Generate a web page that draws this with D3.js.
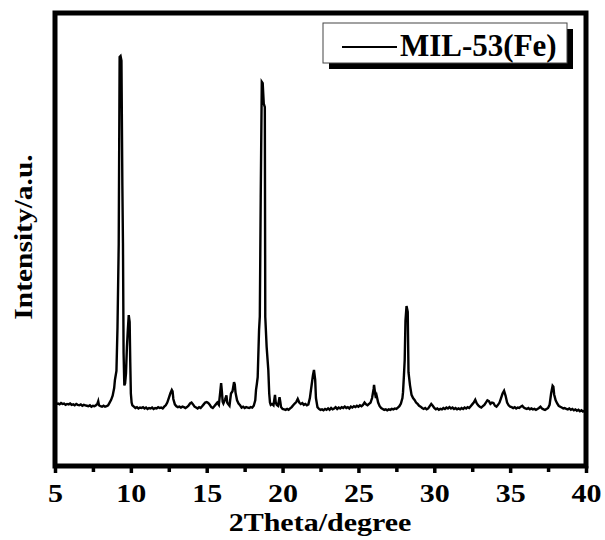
<!DOCTYPE html>
<html>
<head>
<meta charset="utf-8">
<script src="https://cdn.jsdelivr.net/npm/d3@7"></script>
<style>
  body { margin: 0; background: #fff; }
  svg text { font-family: "Liberation Serif", "Times New Roman", serif; font-weight: bold; fill: #000; }
</style>
</head>
<body>
<svg id="chart" width="605" height="540"></svg>
<script>
// XRD pattern of MIL-53(Fe): [2theta, intensity (a.u.)]
var xrd = [
  [5.0, 139], [5.1, 137], [5.2, 138], [5.3, 136], [5.4, 139], [5.5, 137], [5.6, 138], [5.7, 135],
  [5.8, 137], [5.9, 136], [6.0, 138], [6.1, 135], [6.2, 136], [6.3, 134], [6.4, 137], [6.5, 135],
  [6.6, 134], [6.7, 136], [6.8, 133], [6.9, 135], [7.0, 134], [7.1, 133], [7.2, 132], [7.3, 134],
  [7.4, 131], [7.5, 133], [7.6, 132], [7.7, 134], [7.8, 138], [7.85, 143], [7.9, 134], [8.0, 132],
  [8.1, 131], [8.2, 133], [8.3, 131], [8.4, 132], [8.5, 134], [8.6, 140], [8.7, 146], [8.8, 155],
  [8.9, 172], [8.95, 190], [9.05, 210], [9.12, 307], [9.2, 490], [9.26, 903], [9.32, 905], [9.38, 895],
  [9.44, 620], [9.48, 492], [9.52, 250], [9.57, 178], [9.62, 182], [9.68, 205], [9.74, 262], [9.8, 300],
  [9.86, 333], [9.92, 318], [9.96, 230], [10.0, 160], [10.05, 140], [10.1, 134], [10.2, 131], [10.3, 128],
  [10.4, 130], [10.5, 127], [10.6, 129], [10.7, 128], [10.8, 130], [10.9, 127], [11.0, 129], [11.1, 126],
  [11.2, 128], [11.3, 127], [11.4, 129], [11.5, 126], [11.6, 128], [11.7, 127], [11.8, 130], [11.9, 128],
  [12.0, 129], [12.1, 127], [12.2, 131], [12.3, 134], [12.4, 140], [12.5, 150], [12.6, 160], [12.7, 168],
  [12.75, 165], [12.8, 148], [12.9, 136], [13.0, 132], [13.1, 130], [13.2, 131], [13.3, 129], [13.4, 131],
  [13.5, 130], [13.6, 128], [13.7, 130], [13.8, 133], [13.9, 138], [14.0, 140], [14.1, 136], [14.2, 131],
  [14.3, 129], [14.4, 127], [14.5, 130], [14.6, 128], [14.7, 132], [14.8, 136], [14.9, 140], [15.0, 141],
  [15.1, 139], [15.2, 135], [15.3, 130], [15.4, 128], [15.5, 132], [15.6, 136], [15.7, 140], [15.8, 135],
  [15.88, 160], [15.95, 183], [16.0, 165], [16.05, 142], [16.1, 138], [16.2, 146], [16.3, 156], [16.35, 140],
  [16.4, 137], [16.5, 133], [16.6, 160], [16.7, 165], [16.8, 185], [16.85, 180], [16.9, 162], [17.0, 145],
  [17.1, 138], [17.2, 134], [17.3, 129], [17.4, 131], [17.5, 128], [17.6, 130], [17.7, 129], [17.8, 128],
  [17.9, 130], [18.0, 129], [18.1, 133], [18.2, 145], [18.25, 168], [18.3, 180], [18.36, 196], [18.45, 300],
  [18.5, 330], [18.56, 594], [18.63, 848], [18.69, 845], [18.76, 800], [18.83, 792], [18.86, 329], [18.95, 263],
  [19.06, 212], [19.12, 160], [19.17, 140], [19.22, 135], [19.3, 137], [19.4, 134], [19.5, 157], [19.55, 140],
  [19.62, 135], [19.7, 133], [19.8, 152], [19.85, 142], [19.9, 130], [20.0, 126], [20.1, 125], [20.2, 124],
  [20.3, 126], [20.4, 124], [20.5, 127], [20.6, 130], [20.7, 134], [20.8, 138], [20.9, 141], [21.0, 148],
  [21.1, 140], [21.2, 137], [21.3, 139], [21.4, 135], [21.5, 137], [21.6, 134], [21.7, 136], [21.8, 150],
  [21.9, 175], [22.0, 200], [22.07, 212], [22.15, 190], [22.2, 150], [22.3, 130], [22.4, 126], [22.5, 124],
  [22.6, 125], [22.7, 123], [22.8, 126], [22.9, 124], [23.0, 127], [23.1, 124], [23.2, 128], [23.3, 125],
  [23.4, 127], [23.5, 130], [23.6, 126], [23.7, 129], [23.8, 127], [23.9, 130], [24.0, 128], [24.1, 131],
  [24.2, 128], [24.3, 130], [24.4, 127], [24.5, 131], [24.6, 129], [24.7, 132], [24.8, 130], [24.9, 133],
  [25.0, 131], [25.1, 134], [25.2, 132], [25.3, 135], [25.4, 140], [25.5, 136], [25.6, 134], [25.7, 137],
  [25.8, 140], [25.9, 150], [26.0, 170], [26.03, 179], [26.1, 160], [26.15, 150], [26.2, 155], [26.3, 140],
  [26.4, 132], [26.5, 128], [26.6, 126], [26.7, 124], [26.8, 125], [26.9, 123], [27.0, 125], [27.1, 124],
  [27.2, 126], [27.3, 125], [27.4, 127], [27.5, 126], [27.6, 129], [27.7, 132], [27.8, 138], [27.9, 150],
  [27.94, 163], [28.0, 200], [28.05, 234], [28.1, 320], [28.17, 353], [28.25, 340], [28.3, 207], [28.4, 178],
  [28.5, 157], [28.6, 150], [28.7, 146], [28.8, 140], [28.9, 137], [29.0, 133], [29.1, 131], [29.2, 128],
  [29.3, 126], [29.4, 128], [29.5, 125], [29.6, 127], [29.7, 132], [29.8, 137], [29.9, 133], [30.0, 128],
  [30.1, 125], [30.2, 127], [30.3, 124], [30.4, 126], [30.5, 125], [30.6, 128], [30.7, 126], [30.8, 129],
  [30.9, 127], [31.0, 130], [31.1, 127], [31.2, 129], [31.3, 126], [31.4, 128], [31.5, 125], [31.6, 127],
  [31.7, 125], [31.8, 128], [31.9, 126], [32.0, 129], [32.1, 127], [32.2, 130], [32.3, 128], [32.4, 132],
  [32.5, 136], [32.6, 140], [32.7, 146], [32.8, 138], [32.9, 134], [33.0, 131], [33.1, 129], [33.2, 132],
  [33.3, 135], [33.4, 140], [33.5, 145], [33.6, 143], [33.7, 137], [33.8, 140], [33.9, 139], [34.0, 133],
  [34.1, 131], [34.2, 135], [34.3, 140], [34.4, 150], [34.5, 160], [34.6, 166], [34.7, 155], [34.8, 140],
  [34.9, 134], [35.0, 131], [35.1, 130], [35.2, 128], [35.3, 130], [35.4, 127], [35.5, 129], [35.6, 128],
  [35.7, 131], [35.8, 133], [35.9, 129], [36.0, 127], [36.1, 126], [36.2, 128], [36.3, 125], [36.4, 127],
  [36.5, 125], [36.6, 126], [36.7, 124], [36.8, 126], [36.9, 128], [37.0, 131], [37.1, 127], [37.2, 125],
  [37.3, 124], [37.4, 126], [37.5, 128], [37.6, 135], [37.7, 160], [37.8, 177], [37.85, 175], [37.9, 158],
  [38.0, 145], [38.1, 138], [38.2, 133], [38.3, 131], [38.4, 129], [38.5, 127], [38.6, 128], [38.7, 126],
  [38.8, 125], [38.9, 127], [39.0, 124], [39.1, 126], [39.2, 123], [39.3, 125], [39.4, 122], [39.5, 124],
  [39.6, 121], [39.7, 123], [39.8, 120], [39.9, 122], [40.0, 121]
]

var majorTicks = [5, 10, 15, 20, 25, 30, 35, 40]
var minorTicks = [7.5, 12.5, 17.5, 22.5, 27.5, 32.5, 37.5]
var seriesName = 'MIL-53(Fe)'
var xTitle = '2Theta/degree'
var yTitle = 'Intensity/a.u.'

var margin = { top: 13, right: 19, bottom: 74, left: 55 }
var width = 605 - margin.left - margin.right
var height = 540 - margin.top - margin.bottom

var svg = d3.select('#chart')
var g = svg.append('g')
    .attr('transform', 'translate(' + margin.left + ',' + margin.top + ')')

var x = d3.scaleLinear().domain([5, 40]).range([0, width])
var y = d3.scaleLinear().domain([0, 1000]).range([height, 0])

var line = d3.line()
    .x(d => x(d[0]))
    .y(d => y(d[1]))

g.append('path')
    .datum(xrd)
    .attr('fill', 'none')
    .attr('stroke', '#000')
    .attr('stroke-width', 2.4)
    .attr('stroke-linejoin', 'miter')
    .attr('d', line)

// minor ticks
var minorAxis = d3.axisBottom(x).tickValues(minorTicks).tickSize(6).tickFormat('')
g.append('g')
    .attr('transform', 'translate(0,' + height + ')')
    .call(minorAxis)
    .call(s => s.select('.domain').remove())
    .call(s => s.selectAll('line').attr('stroke-width', 3.5))

var xAxis = d3.axisBottom(x).tickValues(majorTicks).tickSize(7).tickFormat(d3.format('d'))
var xg = g.append('g')
    .attr('transform', 'translate(0,' + height + ')')
    .call(xAxis)
xg.select('.domain').remove()
xg.selectAll('line').attr('stroke-width', 3.5)
xg.selectAll('text')
    .attr('y', 36)
    .attr('dy', null)
    .attr('font-size', 25)
    .attr('transform', 'scale(1.2,1)')

// frame
g.append('rect')
    .attr('width', width)
    .attr('height', height)
    .attr('fill', 'none')
    .attr('stroke', '#000')
    .attr('stroke-width', 5)

svg.append('text')
    .attr('text-anchor', 'middle')
    .attr('font-size', 25)
    .attr('transform', 'translate(320,531) scale(1.2,1)')
    .text(xTitle)

svg.append('text')
    .attr('text-anchor', 'middle')
    .attr('font-size', 25)
    .attr('transform', 'translate(32,237) rotate(-90) scale(1.18,1)')
    .text(yTitle)

// legend
var lg = svg.append('g').attr('transform', 'translate(323,23)')
lg.append('rect')
    .attr('x', 6).attr('y', 6)
    .attr('width', 244).attr('height', 40)
    .attr('fill', '#000')
lg.append('rect')
    .attr('width', 244).attr('height', 40)
    .attr('fill', '#fff')
    .attr('stroke', '#444')
    .attr('stroke-width', 1)
lg.append('line')
    .attr('x1', 19).attr('x2', 74)
    .attr('y1', 24).attr('y2', 24)
    .attr('stroke', '#000')
    .attr('stroke-width', 2)
lg.append('text')
    .attr('x', 77).attr('y', 33)
    .attr('font-size', 31)
    .text(seriesName)
</script>
</body>
</html>
